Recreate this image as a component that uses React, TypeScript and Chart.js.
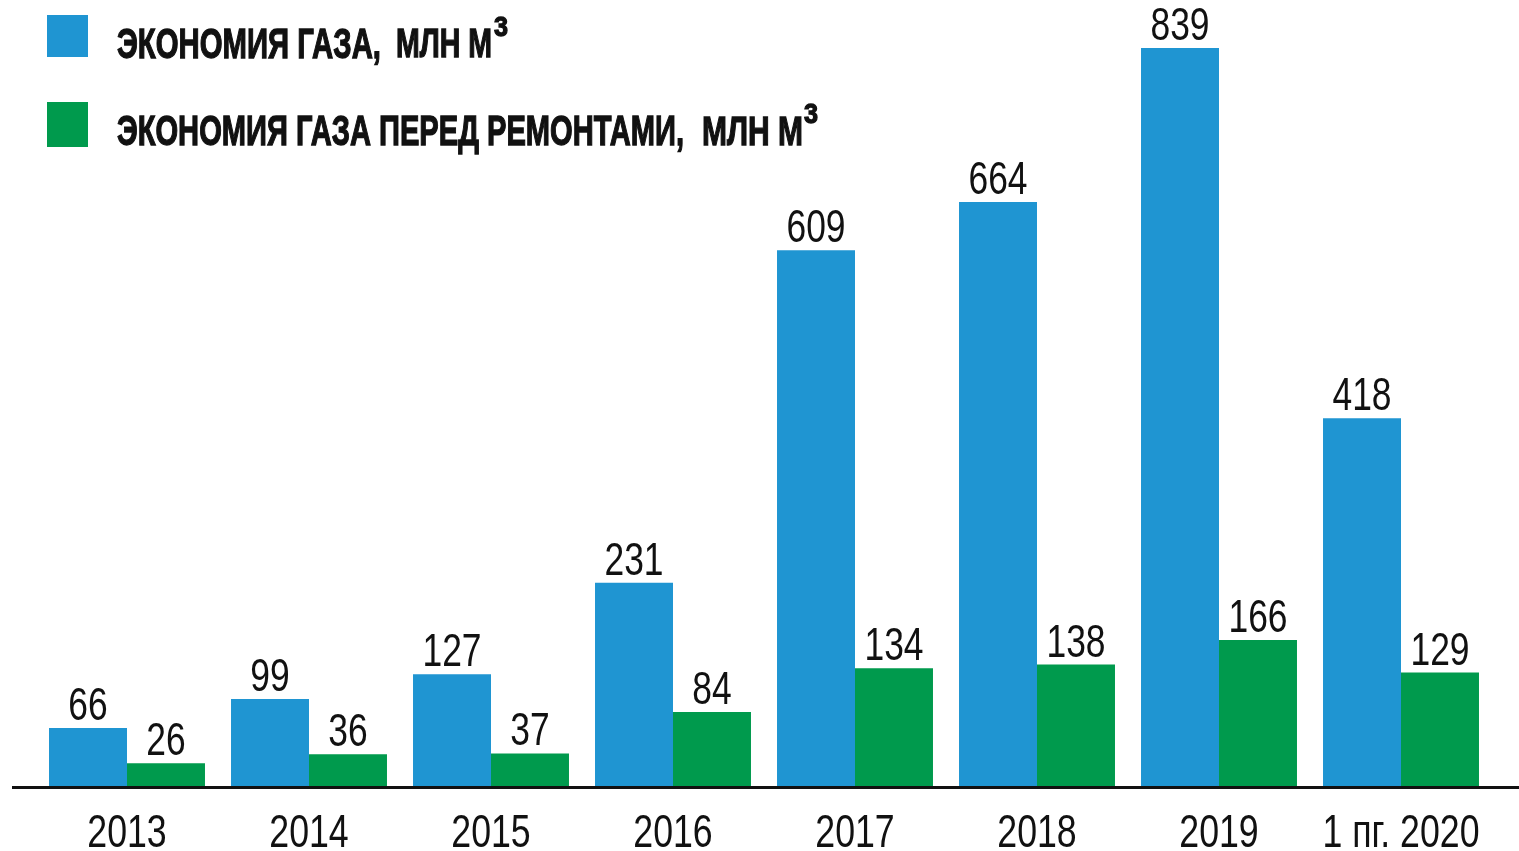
import React, { useEffect, useRef } from "react";
import { Chart, registerables } from "chart.js";

Chart.register(...registerables);

const categories = ["2013", "2014", "2015", "2016", "2017", "2018", "2019", "1 пг. 2020"];
const gasSaving = [66, 99, 127, 231, 609, 664, 839, 418];
const gasSavingBeforeRepairs = [26, 36, 37, 84, 134, 138, 166, 129];
const seriesNames = ["ЭКОНОМИЯ ГАЗА, МЛН М³", "ЭКОНОМИЯ ГАЗА ПЕРЕД РЕМОНТАМИ, МЛН М³"];

const BLUE = "#1f95d2";
const GREEN = "#009a4d";
const FONT = "'Liberation Sans', Arial, sans-serif";

function drawFit(ctx: CanvasRenderingContext2D, text: string, x: number, baseline: number, width: number, font: string) {
  ctx.save();
  ctx.font = font;
  ctx.textAlign = "left";
  ctx.textBaseline = "alphabetic";
  const w = ctx.measureText(text).width || 1;
  ctx.translate(x, baseline);
  ctx.scale(width / w, 1);
  ctx.fillText(text, 0, 0);
  ctx.lineWidth = 1.3;
  ctx.strokeStyle = ctx.fillStyle as string;
  ctx.strokeText(text, 0, 0);
  ctx.restore();
}

function drawNarrow(ctx: CanvasRenderingContext2D, text: string, cx: number, baseline: number, font: string, sx: number) {
  ctx.save();
  ctx.font = font;
  ctx.textAlign = "center";
  ctx.textBaseline = "alphabetic";
  ctx.translate(cx, baseline);
  ctx.scale(sx, 1);
  ctx.fillText(text, 0, 0);
  ctx.restore();
}

const overlayPlugin = {
  id: "overlay",
  afterDatasetsDraw(chart: any) {
    const ctx: CanvasRenderingContext2D = chart.ctx;
    const area = chart.chartArea;
    // axis line
    ctx.save();
    ctx.strokeStyle = "#111";
    ctx.lineWidth = 3;
    ctx.beginPath();
    ctx.moveTo(12, area.bottom + 1.5);
    ctx.lineTo(chart.width, area.bottom + 1.5);
    ctx.stroke();
    ctx.restore();

    ctx.save();
    ctx.fillStyle = "#111";
    // category labels placed by the x scale
    const xs = chart.scales.x;
    (chart.data.labels as string[]).forEach((lab, i) => {
      drawNarrow(ctx, lab, xs.getPixelForValue(i), area.bottom + 61, `47px ${FONT}`, 0.76);
    });

    // value labels
    chart.data.datasets.forEach((ds: any, di: number) => {
      const meta = chart.getDatasetMeta(di);
      meta.data.forEach((el: any, i: number) => {
        drawNarrow(ctx, String(ds.data[i]), el.x, el.y - 8, `46px ${FONT}`, 0.77);
      });
    });
    ctx.restore();

    // legend
    ctx.save();
    ctx.fillStyle = BLUE;
    ctx.fillRect(47, 15, 41, 42);
    ctx.fillStyle = GREEN;
    ctx.fillRect(47, 102, 41, 45);
    ctx.fillStyle = "#111";
    const bold = `bold 42px ${FONT}`;
    const boldS = `bold 41px ${FONT}`;
    const sup = `bold 28px ${FONT}`;
    drawFit(ctx, "ЭКОНОМИЯ ГАЗА,", 117, 58, 264, bold);
    drawFit(ctx, "МЛН М", 396, 57, 96, boldS);
    drawFit(ctx, "3", 494, 36, 14, sup);
    drawFit(ctx, "ЭКОНОМИЯ ГАЗА ПЕРЕД РЕМОНТАМИ,", 117, 145, 567, bold);
    drawFit(ctx, "МЛН М", 702, 145, 101, boldS);
    drawFit(ctx, "3", 804, 123, 14, sup);
    ctx.restore();
  },
};

export default function App() {
  const ref = useRef<HTMLCanvasElement | null>(null);
  useEffect(() => {
    if (!ref.current) return;
    const chart = new Chart(ref.current, {
      type: "bar",
      data: {
        labels: categories,
        datasets: [
          { label: seriesNames[0], data: gasSaving, backgroundColor: BLUE, borderWidth: 0 },
          { label: seriesNames[1], data: gasSavingBeforeRepairs, backgroundColor: GREEN, borderWidth: 0 },
        ],
      },
      options: {
        animation: false,
        responsive: true,
        maintainAspectRatio: false,
        layout: { padding: { top: 12, left: 36, right: 27, bottom: 0 } },
        plugins: { legend: { display: false }, tooltip: { enabled: false } },
        datasets: { bar: { categoryPercentage: 0.857, barPercentage: 1.0 } },
        scales: {
          x: {
            grid: { display: false, drawTicks: false },
            border: { display: false },
            ticks: { display: false },
            afterFit: (scale: any) => {
              scale.height = 65;
            },
          },
          y: { display: false, min: 0, max: 880 },
        },
      },
      plugins: [overlayPlugin],
    });
    return () => chart.destroy();
  }, []);
  return (
    <div style={{ position: "fixed", left: 0, top: 0, width: 1519, height: 851, background: "#fff" }}>
      <canvas ref={ref} />
    </div>
  );
}
